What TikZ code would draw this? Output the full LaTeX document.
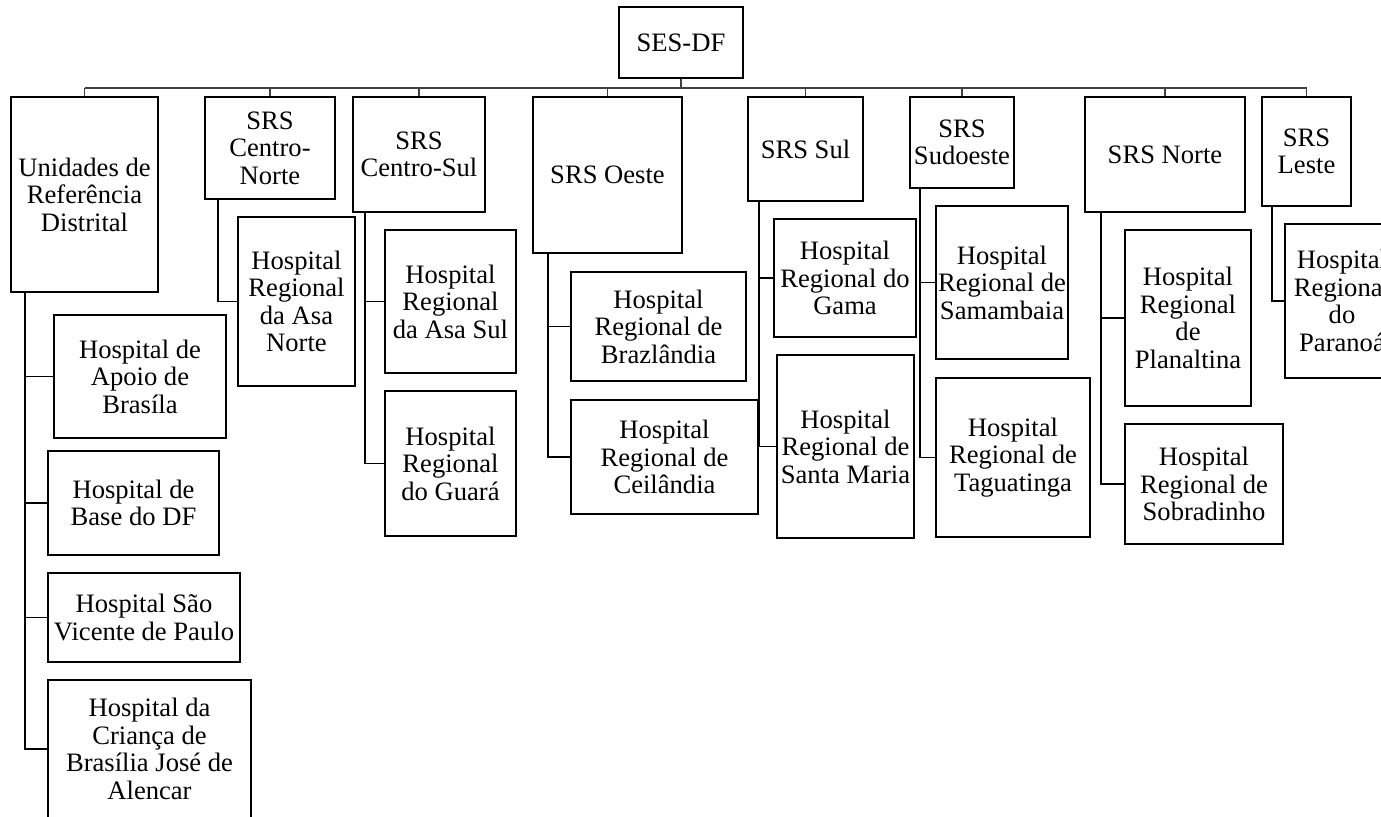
\documentclass[tikz,border=0pt]{standalone}
\usepackage{fontspec}
\setmainfont{Liberation Serif}
\usetikzlibrary{calc}
\tikzset{
  box/.style={draw=black, line width=0.9pt, inner sep=0pt, align=center, font=\fontsize{13.3}{13.75}\selectfont},
  conn/.style={draw=black, line width=0.7pt},
  busline/.style={draw=black!75, line width=0.55pt}
}
\newcommand\bx[6]{\node[box, minimum width={(#4-#2)*0.5pt}, minimum height={(#5-#3)*0.5pt}] (#1) at ({(#2+#4)/2},{(#3+#5)/2}) {#6};}
\begin{document}
\begin{tikzpicture}[x=0.5pt,y=-0.5pt]
\useasboundingbox (0,0) rectangle (1381,816);
\clip (0,0) rectangle (1381,816);
% root
\bx{ses}{619}{7}{743}{78}{SES-DF}
% level 1
\bx{uni}{11}{97}{158}{292}{Unidades de\\Referência\\Distrital}
\bx{cn}{205}{97}{335}{199}{SRS\\Centro-\\Norte}
\bx{cs}{353}{97}{485}{212}{SRS\\Centro-Sul}
\bx{oe}{533}{97}{682}{253}{SRS Oeste}
\bx{su}{748}{97}{863}{201}{SRS Sul}
\bx{sd}{910}{97}{1014}{188}{SRS\\Sudoeste}
\bx{no}{1085}{97}{1245}{212}{SRS Norte}
\bx{le}{1262}{97}{1351}{206}{SRS\\Leste}
% children
\bx{apo}{54}{315}{226}{438}{Hospital de\\Apoio de\\Brasíla}
\bx{bas}{48}{451}{219}{555}{Hospital de\\Base do DF}
\bx{svp}{48}{573}{240}{662}{Hospital São\\Vicente de Paulo}
\bx{cri}{48}{680}{251}{818}{Hospital da\\Criança de\\Brasília José de\\Alencar}
\bx{asn}{238}{217}{355}{386}{Hospital\\Regional\\da Asa\\Norte}
\bx{ass}{385}{230}{516}{373}{Hospital\\Regional\\da Asa Sul}
\bx{gua}{385}{391}{516}{536}{Hospital\\Regional\\do Guará}
\bx{bra}{571}{272}{746}{381}{Hospital\\Regional de\\Brazlândia}
\bx{cei}{571}{400}{758}{514}{Hospital\\Regional de\\Ceilândia}
\bx{gam}{774}{219}{916}{337}{Hospital\\Regional do\\Gama}
\bx{sma}{777}{355}{914}{538}{Hospital\\Regional de\\Santa Maria}
\bx{sam}{936}{206}{1068}{359}{Hospital\\Regional de\\Samambaia}
\bx{tag}{936}{378}{1090}{537}{Hospital\\Regional de\\Taguatinga}
\bx{pla}{1125}{230}{1251}{406}{Hospital\\Regional\\de\\Planaltina}
\bx{sob}{1125}{424}{1283}{544}{Hospital\\Regional de\\Sobradinho}
\bx{par}{1285}{224}{1399}{378}{Hospital\\Regional\\do\\Paranoá}
% bus
\coordinate (bus) at (0,88);
\draw[busline] (ses.south) -- (ses.south |- bus);
\draw[busline] (uni.north |- bus) -- (le.north |- bus);
\foreach \n in {uni,cn,cs,oe,su,sd,no,le}{
  \draw[busline] (\n.north) -- (\n.north |- bus);
}
% spines
\foreach \c in {apo,bas,svp,cri}{\draw[conn] ($(uni.south west)+(15,0)$) |- (\c.west);}
\draw[conn] ($(cn.south west)+(14,0)$) |- (asn.west);
\foreach \c in {ass,gua}{\draw[conn] ($(cs.south west)+(13,0)$) |- (\c.west);}
\foreach \c in {bra,cei}{\draw[conn] ($(oe.south west)+(16,0)$) |- (\c.west);}
\foreach \c in {gam,sma}{\draw[conn] ($(su.south west)+(12,0)$) |- (\c.west);}
\foreach \c in {sam,tag}{\draw[conn] ($(sd.south west)+(11,0)$) |- (\c.west);}
\foreach \c in {pla,sob}{\draw[conn] ($(no.south west)+(17,0)$) |- (\c.west);}
\draw[conn] ($(le.south west)+(11,0)$) |- (par.west);
\end{tikzpicture}
\end{document}
